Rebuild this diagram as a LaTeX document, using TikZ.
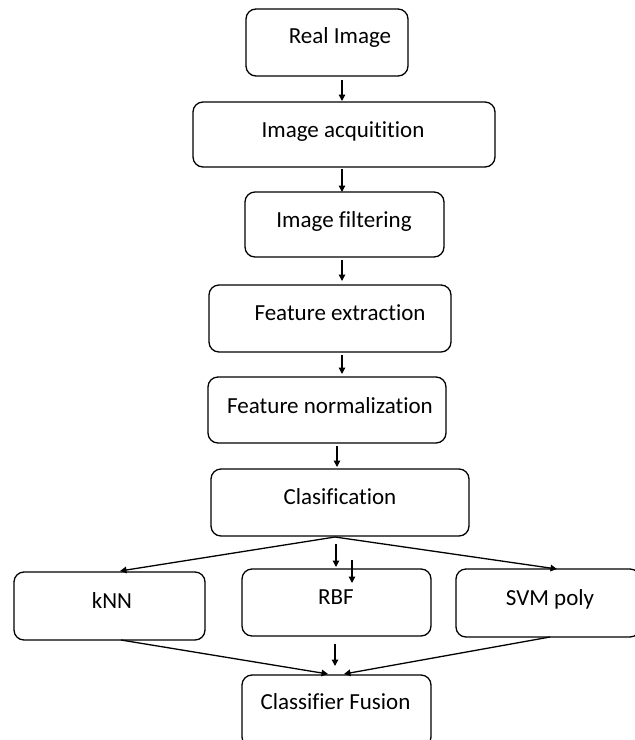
\documentclass[tikz,border=0pt]{standalone}
\usepackage{fontspec}
\setmainfont[Ligatures=NoCommon]{Carlito}
\usetikzlibrary{arrows.meta,calc}

\tikzset{
  stage/.style={draw=black, line width=1.3pt, rounded corners=10pt,
    inner sep=0pt, outer sep=0pt},
  caption/.style={anchor=base, inner sep=0pt, outer sep=0pt,
    font=\fontsize{23}{27}\selectfont},
  flow/.style={line width=1.3pt, -{Triangle[length=6.5pt,width=6.5pt]}},
  plain/.style={line width=1.3pt}
}

\begin{document}
\begin{tikzpicture}[x=1pt,y=-1pt]
\useasboundingbox (0,0) rectangle (635,740);
\clip (0,0) rectangle (635,740);

% processing stages
\node[stage, minimum width=162pt, minimum height=67pt] (real) at (327,42.5) {};
\node[stage, minimum width=302pt, minimum height=65pt] (acq)  at (344,134.5) {};
\node[stage, minimum width=199pt, minimum height=65pt] (filt) at (344.5,224.5) {};
\node[stage, minimum width=242pt, minimum height=67pt] (fe)   at (330,318.5) {};
\node[stage, minimum width=238pt, minimum height=66pt] (fn)   at (327,410) {};
\node[stage, minimum width=258pt, minimum height=67pt] (cls)  at (340,502.5) {};
\node[stage, minimum width=191pt, minimum height=68pt] (knn)  at (109.5,606) {};
\node[stage, minimum width=189pt, minimum height=67pt] (rbf)  at (336.5,602.5) {};
\node[stage, minimum width=184pt, minimum height=68pt] (svm)  at (548,603) {};
\node[stage, minimum width=189pt, minimum height=72pt] (fus)  at (336.5,711) {};

% captions
\node[caption] (realt) at (340,43)  {Real Image};
\node[caption] (acqt)  at (343,137) {Image acquitition};
\node[caption] (filtt) at (344,227) {Image filtering};
\node[caption] (fet)   at (340,320) {Feature extraction};
\node[caption] (fnt)   at (330,413) {Feature normalization};
\node[caption] (clst)  at (340,504) {Clasification};
\node[caption] (knnt)  at (112,608) {kNN};
\node[caption] (rbft)  at (336,604) {RBF};
\node[caption] (svmt)  at (550,605) {SVM poly};
\node[caption] (fust)  at (335.5,709) {Classifier Fusion};

% main chain
\coordinate (axis) at (342,0);
\coordinate (axisb) at (337,0);
\draw[flow] ($(real.south -| axis)+(0,4)$) -- ($(acq.north -| axis)+(0,-1)$);
\draw[flow] ($(acq.south -| axis)+(0,2)$)  -- (filt.north -| axis);
\draw[flow] ($(filt.south -| axis)+(0,3)$) -- ($(fe.north -| axis)+(0,-4)$);
\draw[flow] ($(fe.south -| axis)+(0,3)$)   -- ($(fn.north -| axis)+(0,-3)$);
\draw[flow] ($(fn.south -| axisb)+(0,3)$)  -- ($(cls.north -| axisb)+(0,-2)$);

% fan out to the classifiers
\coordinate (apex) at ($(cls.south)+(-5,1)$);
\draw[flow] (apex) -- ($(knn.north)+(10.5,-1)$);
\draw[flow] (apex) -- ($(svm.north)+(9,0)$);
\draw[flow] ($(cls.south)+(-4,8)$) -- ($(rbf.north)+(-0.5,-2)$);
\draw[flow] ($(rbf.north)+(15.5,-9)$) -- ($(rbf.north)+(15.5,14)$);

% fusion of the classifier outputs
\draw[flow] ($(knn.south)+(11.5,0)$) -- ($(fus.north)+(-8.5,-1)$);
\draw[flow] ($(svm.south)+(2,0)$) -- ($(fus.north)+(7.5,-1)$);
\draw[flow] ($(rbf.south)+(-1.5,8)$) -- ($(fus.north)+(-1.5,-9)$);
\end{tikzpicture}
\end{document}
